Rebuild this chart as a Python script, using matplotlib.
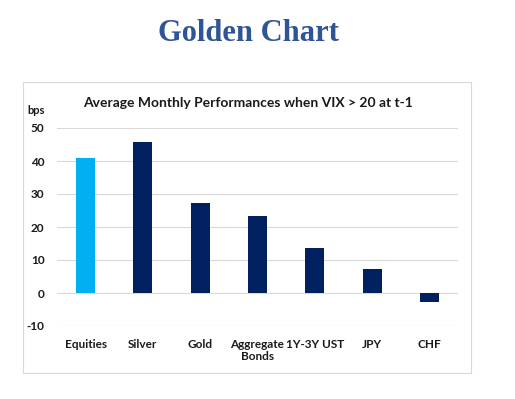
import matplotlib
matplotlib.use("Agg")
import matplotlib.pyplot as plt
from matplotlib.patches import Rectangle

# Data (bps)
categories = ["Equities", "Silver", "Gold", "Aggregate\nBonds", "1Y-3Y UST", "JPY", "CHF"]
values = [41, 45.8, 27.4, 23.4, 13.5, 7.2, -2.8]
colors = ["#00B0F0", "#002060", "#002060", "#002060", "#002060", "#002060", "#002060"]
yticks = [-10, 0, 10, 20, 30, 40, 50]

plt.rcParams["font.family"] = ["Lato", "DejaVu Sans"]

fig = plt.figure(figsize=(5.15, 3.99), dpi=100)

# Light frame around the chart area
fig.patches.append(Rectangle((23 / 515, 1 - 373 / 399), 448 / 515, 291 / 399,
                             transform=fig.transFigure, fill=False,
                             edgecolor="#d9d9d9", linewidth=0.8))

fig.text(0.482, 0.915, "Golden Chart", ha="center", va="center",
         family="Liberation Serif", fontweight="bold", fontsize=22, color="#2F5597")
fig.text(0.482, 0.742, "Average Monthly Performances when VIX > 20 at t-1",
         ha="center", va="center", fontweight="bold", fontsize=10, color="#1a1a1a")
fig.text(0.053, 0.722, "bps", ha="left", va="center", fontsize=8,
         fontweight="bold", color="#1a1a1a")

ax = fig.add_axes([57 / 515, 1 - 326 / 399, 401 / 515, 198 / 399])
x = range(len(categories))
ax.bar(x, values, width=0.33, color=colors, zorder=3)
ax.set_xlim(-0.5, len(categories) - 0.5)
ax.set_ylim(-10, 50)
ax.set_yticks(yticks)
ax.set_yticklabels([str(t) for t in yticks], fontsize=8.5, fontweight="bold")
ax.grid(axis="y", color="#d9d9d9", linewidth=0.8, zorder=0)
for s in ax.spines.values():
    s.set_visible(False)
ax.tick_params(axis="both", length=0, colors="#1a1a1a")
ax.tick_params(axis="y", pad=9)
ax.tick_params(axis="x", pad=9)
ax.set_xticks(list(x))
ax.set_xticklabels(categories, fontsize=8.5, fontweight="bold", va="top",
                   linespacing=1.2)

fig.savefig("out.png", dpi=100)
